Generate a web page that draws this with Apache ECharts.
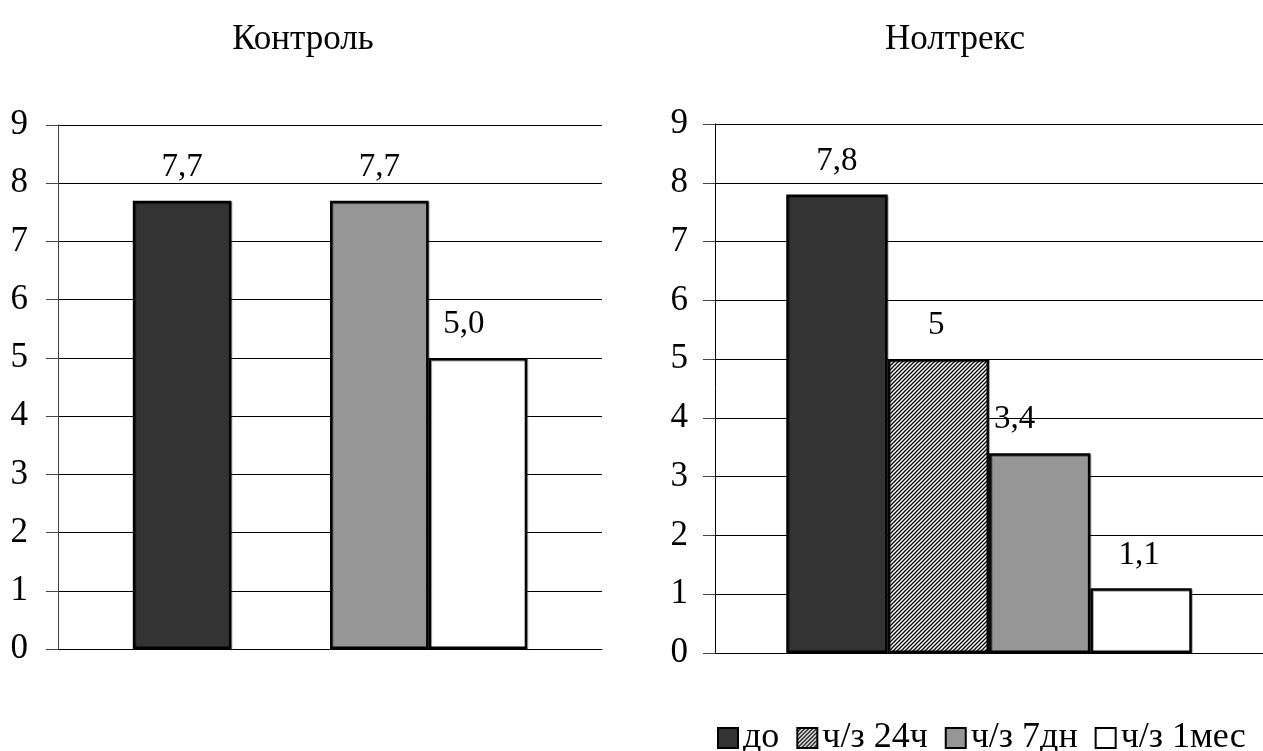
<!DOCTYPE html>
<html>
<head>
<meta charset="utf-8">
<style>
  html, body { margin: 0; padding: 0; background: #fff; }
  #chart { width: 1263px; height: 751px; }
</style>
<script src="https://cdn.jsdelivr.net/npm/echarts@6/dist/echarts.min.js"></script>
</head>
<body>
<div id="chart"></div>
<script>
// Periods of measurement (one bar per period in each panel)
const periods = ['до', 'ч/з 24ч', 'ч/з 7дн', 'ч/з 1мес'];
// Panel titles
const panels = ['Контроль', 'Нолтрекс'];
// Values per period; null = no measurement
const controlValues = [7.7, null, 7.7, 5.0];
const noltrexValues = [7.8, 5, 3.4, 1.1];
// Decimal places shown in each panel's value labels
const panelDecimals = [1, null];
// Y axis range
const yMin = 0, yMax = 9, yStep = 1;

const FONT = 'Liberation Serif';

// Horizontal nudges of the value labels (per panel, per period)
const labelNudge = [[0, 0, 0, -14], [0, -2, -25, -2]];

// Diagonal hatch fill for the 24h bar
function hatchPattern() {
  const s = 4;
  const c = document.createElement('canvas');
  c.width = s; c.height = s;
  const g = c.getContext('2d');
  g.fillStyle = '#fff';
  g.fillRect(0, 0, s, s);
  g.strokeStyle = '#000';
  g.lineWidth = 1.3;
  g.beginPath();
  g.moveTo(0, s); g.lineTo(s, 0);
  g.moveTo(-1, 1); g.lineTo(1, -1);
  g.moveTo(s - 1, s + 1); g.lineTo(s + 1, s - 1);
  g.stroke();
  return { image: c, repeat: 'repeat' };
}

const fills = ['#333333', hatchPattern(), '#969696', '#ffffff'];

function fmt(v, dec) {
  const t = dec == null ? String(v) : v.toFixed(dec);
  return t.replace('.', ',');
}

const grids = [
  { left: 58, right: 661, top: 125, bottom: 102 },
  { left: 715, right: 0, top: 124, bottom: 98 }
];
const categoryGaps = ['27.5%', '26%'];

const xAxes = grids.map((g, i) => ({
  type: 'category', gridIndex: i, data: [panels[i]],
  axisLine: { show: true, lineStyle: { color: '#000', width: 1 } },
  axisTick: { show: false }, axisLabel: { show: false }
}));

const yAxes = grids.map((g, i) => ({
  type: 'value', gridIndex: i, min: yMin, max: yMax, interval: yStep,
  axisLine: { show: true, lineStyle: { color: i === 0 ? '#444' : '#000', width: 1 } },
  axisTick: { show: true, inside: false, length: 12, lineStyle: { color: '#444', width: 1 } },
  axisLabel: { fontFamily: FONT, fontSize: 35, color: '#000', margin: i === 0 ? 30 : 27 },
  splitLine: { show: true, lineStyle: { color: '#000', width: 1 } }
}));

const series = [];
[controlValues, noltrexValues].forEach((vals, gi) => {
  periods.forEach((name, j) => {
    series.push({
      type: 'bar', name: name,
      xAxisIndex: gi, yAxisIndex: gi,
      data: [vals[j] == null ? '-' : vals[j]],
      barGap: '0%', barCategoryGap: categoryGaps[gi],
      itemStyle: { color: fills[j], borderColor: '#000', borderWidth: 2.5,
                   shadowColor: 'rgba(0,0,0,0.35)', shadowOffsetX: 1, shadowOffsetY: 1 },
      label: {
        show: true, position: 'top', distance: 17,
        offset: [labelNudge[gi][j], 0],
        fontFamily: FONT, fontSize: 33, color: '#000',
        formatter: p => fmt(p.value, panelDecimals[gi])
      },
      emphasis: { disabled: true },
      animation: false
    });
  });
});

const chart = echarts.init(document.getElementById('chart'), null, { renderer: 'canvas' });
chart.setOption({
  backgroundColor: '#fff',
  animation: false,
  title: [
    { text: panels[0], left: 298, top: 17, textAlign: 'center',
      textStyle: { fontFamily: FONT, fontSize: 35, fontWeight: 'normal', color: '#000' } },
    { text: panels[1], left: 950, top: 17, textAlign: 'center',
      textStyle: { fontFamily: FONT, fontSize: 35, fontWeight: 'normal', color: '#000' } }
  ],
  legend: {
    data: periods.map((p, j) => ({
      name: p, icon: 'rect',
      itemStyle: { color: fills[j], borderColor: '#000', borderWidth: 2 }
    })),
    left: 712, top: 715, itemWidth: 20, itemHeight: 20, itemGap: 17,
    textStyle: { fontFamily: FONT, fontSize: 36, color: '#000' },
    selectedMode: false
  },
  grid: grids,
  xAxis: xAxes,
  yAxis: yAxes,
  series: series
});
</script>
</body>
</html>
